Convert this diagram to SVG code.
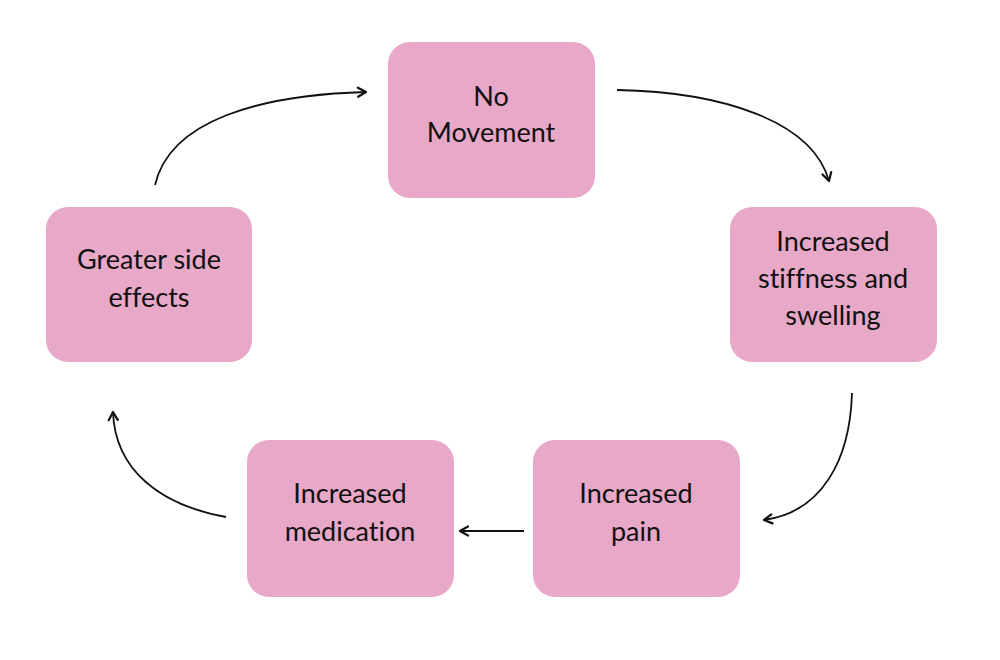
<svg xmlns="http://www.w3.org/2000/svg" width="1000" height="660" viewBox="0 0 1000 660">
<defs>
<style>
.box{fill:#E8A8C7;}
.lbl{font-family:"Lato","Open Sans","Liberation Sans",sans-serif;font-size:27px;fill:#111;text-anchor:middle;font-variant-ligatures:none;}
.conn{fill:none;stroke:#111;stroke-width:1.8;}
</style>
<marker id="arr" viewBox="0 0 12 12" refX="10" refY="6" markerWidth="12" markerHeight="12" markerUnits="userSpaceOnUse" orient="auto">
<path d="M2,1.5 L10,6 L2,10.5" fill="none" stroke="#111" stroke-width="2.2" stroke-linecap="round" stroke-linejoin="round"/>
</marker>
</defs>
<rect width="1000" height="660" fill="#fff"/>
<g id="connectors">
<path class="conn" d="M155,185 C170,120 260,95 366,92" marker-end="url(#arr)"/>
<path class="conn" d="M617,90 C720,92 812,120 829,181" marker-end="url(#arr)"/>
<path class="conn" d="M852,393 C850,460 822,512 764,520" marker-end="url(#arr)"/>
<path class="conn" d="M524,531 L460,531" marker-end="url(#arr)"/>
<path class="conn" d="M226,517 C160,505 115,470 113,412" marker-end="url(#arr)"/>
</g>
<g id="node-no-movement">
<rect class="box" x="388" y="42" width="207" height="156" rx="22"/>
<text class="lbl" x="491" y="106">No</text>
<text class="lbl" x="491" y="142">Movement</text>
</g>
<g id="node-stiffness">
<rect class="box" x="730" y="207" width="207" height="155" rx="22"/>
<text class="lbl" x="833" y="251">Increased</text>
<text class="lbl" x="833" y="288">stiffness and</text>
<text class="lbl" x="833" y="325">swelling</text>
</g>
<g id="node-pain">
<rect class="box" x="533" y="440" width="207" height="157" rx="22"/>
<text class="lbl" x="636" y="503">Increased</text>
<text class="lbl" x="636" y="541">pain</text>
</g>
<g id="node-medication">
<rect class="box" x="247" y="440" width="207" height="157" rx="22"/>
<text class="lbl" x="350" y="503">Increased</text>
<text class="lbl" x="350" y="541">medication</text>
</g>
<g id="node-side-effects">
<rect class="box" x="46" y="207" width="206" height="155" rx="22"/>
<text class="lbl" x="149" y="269">Greater side</text>
<text class="lbl" x="149" y="307">effects</text>
</g>
</svg>
